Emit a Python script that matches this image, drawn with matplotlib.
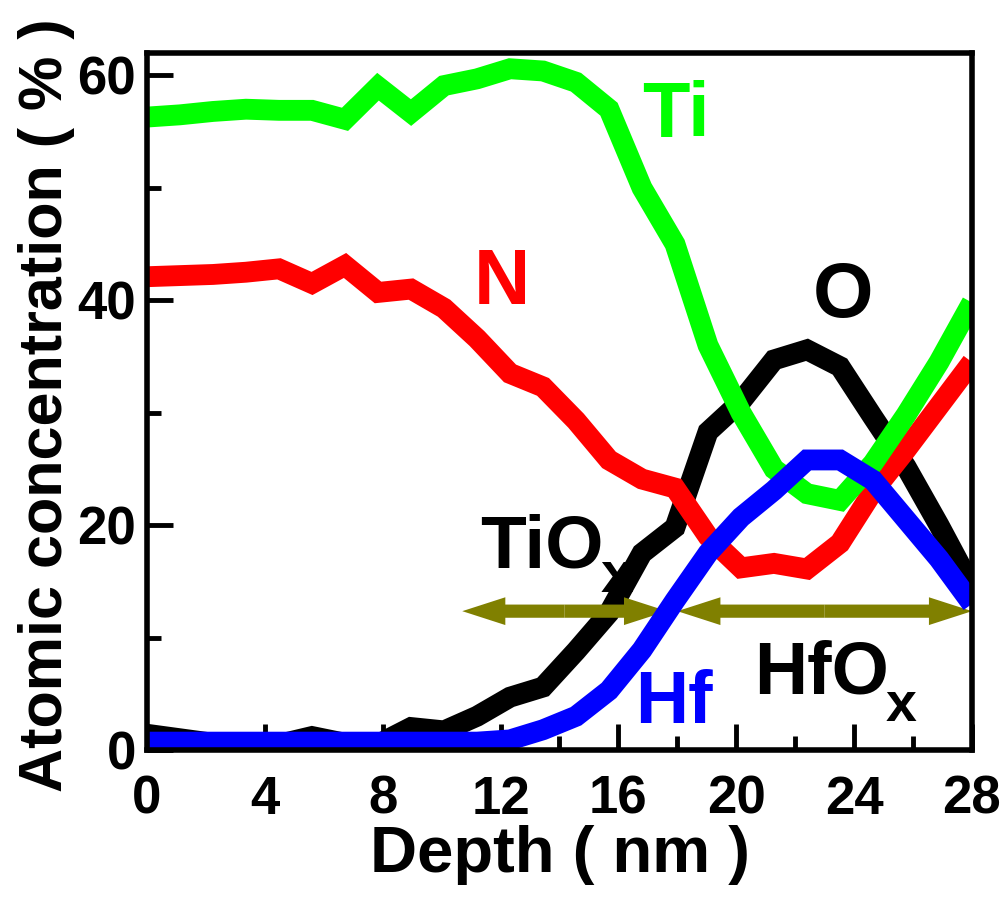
import matplotlib
matplotlib.use('Agg')
import matplotlib.pyplot as plt
from matplotlib.ticker import MultipleLocator
from matplotlib.patches import FancyArrowPatch

# depth profile (nm, atomic %)
depth = [0, 1.12, 2.24, 3.36, 4.48, 5.6, 6.72, 7.84, 8.96, 10.08, 11.2, 12.32, 13.44,
         14.56, 15.68, 16.8, 17.92, 19.04, 20.16, 21.28, 22.4, 23.52, 24.64, 25.76, 26.88, 28.0]
ti = [56.3, 56.5, 56.8, 57.0, 56.9, 56.9, 56.1, 59.0, 56.7, 59.1, 59.7, 60.6, 60.4,
      59.4, 57.0, 50.0, 45.0, 36.0, 30.0, 25.0, 22.8, 22.2, 25.5, 29.8, 34.5, 39.8]
n = [42.1, 42.2, 42.3, 42.5, 42.8, 41.5, 43.1, 40.7, 41.0, 39.3, 36.6, 33.5, 32.3,
     29.3, 25.8, 24.1, 23.3, 19.0, 16.2, 16.6, 16.1, 18.4, 23.0, 26.7, 30.6, 34.5]
o = [1.4, 1.0, 0.6, 0.5, 0.5, 1.2, 0.6, 0.5, 2.0, 1.7, 3.0, 4.7, 5.6,
     8.8, 12.2, 17.5, 19.8, 28.3, 31.0, 34.7, 35.6, 34.1, 29.6, 25.2, 20.0, 14.5]
hf = [0.7, 0.7, 0.7, 0.7, 0.7, 0.7, 0.7, 0.7, 0.7, 0.7, 0.7, 0.9, 1.8,
      3.0, 5.3, 8.9, 13.3, 17.5, 20.7, 23.1, 25.8, 25.8, 24.0, 20.5, 17.0, 13.0]

# the two layer ranges (start, end, height)
tiox_range = (10.7, 17.65, 12.35)
hfox_range = (18.0, 28.0, 12.35)

olive = '#808000'

plt.rcParams['font.family'] = ['Liberation Sans', 'DejaVu Sans']
plt.rcParams['font.weight'] = 'bold'


def double_arrow(axe, x0, x1, y):
    """two filled heads pointing away from the middle"""
    mid = (x0 + x1) / 2
    for end in (x0, x1):
        arr = FancyArrowPatch((mid, y), (end, y),
                              arrowstyle='simple,head_length=31,head_width=20,tail_width=9.5',
                              mutation_scale=1, color=olive, lw=0,
                              shrinkA=0, shrinkB=0, zorder=2.3)
        axe.add_patch(arr)


def layer_label(axe, x, y, name, size, sub_size, sub_dy):
    """layer name with a subscript x hung on the right of it"""
    t = axe.text(x, y, name, fontsize=size, ha='left', va='baseline')
    axe.annotate('x', xy=(1, 0), xycoords=t, xytext=(-2, sub_dy),
                 textcoords='offset points', fontsize=sub_size,
                 ha='left', va='baseline')


fig = plt.figure(figsize=(10.03, 8.99), dpi=100)
axe = fig.add_axes([147 / 1003, 1 - 750 / 899, 825 / 1003, 697 / 899])

line_kw = dict(linewidth=15, solid_joinstyle='miter', solid_capstyle='butt')
axe.plot(depth, o, color='black', zorder=2.0, **line_kw)
axe.plot(depth, n, color='#ff0000', zorder=2.1, **line_kw)
axe.plot(depth, ti, color='#00ff00', zorder=2.2, **line_kw)
axe.plot(depth, hf, color='#0000ff', zorder=2.4, **line_kw)

double_arrow(axe, tiox_range[0], tiox_range[1], tiox_range[2])
double_arrow(axe, hfox_range[0], hfox_range[1], hfox_range[2])

# element names
axe.text(16.8, 54.5, 'Ti', color='#00ff00', fontsize=56, ha='left', va='baseline')
axe.text(11.1, 39.7, 'N', color='#ff0000', fontsize=56, ha='left', va='baseline')
axe.text(22.6, 38.5, 'O', color='black', fontsize=56, ha='left', va='baseline')
axe.text(16.55, 2.4, 'Hf', color='#0000ff', fontsize=53, ha='left', va='baseline')

# layer names
layer_label(axe, 11.3, 16.27, 'TiO', 54, 42, -7)
layer_label(axe, 20.6, 5.07, 'HfO', 53, 40, -9)

axe.set_xlim(0, 28)
axe.set_ylim(0, 62)
axe.xaxis.set_major_locator(MultipleLocator(4))
axe.xaxis.set_minor_locator(MultipleLocator(2))
axe.yaxis.set_major_locator(MultipleLocator(20))
axe.yaxis.set_minor_locator(MultipleLocator(10))

for sp in axe.spines.values():
    sp.set_linewidth(4)
axe.tick_params(which='both', direction='in', width=3.5, top=False, right=False, labelsize=38)
axe.tick_params(which='major', length=19)
axe.tick_params(which='minor', length=10)
axe.tick_params(axis='x', which='major', pad=18)
axe.tick_params(axis='y', which='major', pad=8)

axe.set_xlabel('Depth ( nm )', fontsize=47, fontweight='bold')
axe.set_ylabel('Atomic concentration ( % )', fontsize=44, fontweight='bold')
axe.xaxis.set_label_coords(0.5, -0.1076)
axe.yaxis.set_label_coords(-0.087, 0.495)

fig.savefig('out.png', dpi=100)
plt.close()
